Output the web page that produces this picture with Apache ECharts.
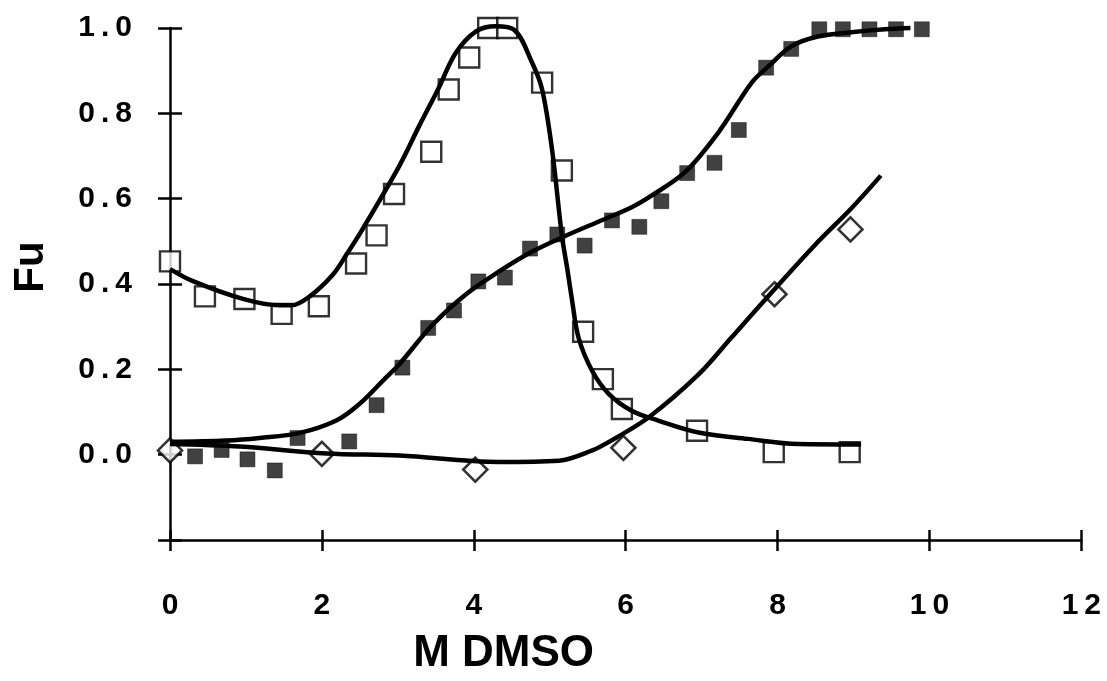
<!DOCTYPE html>
<html>
<head>
<meta charset="utf-8">
<script src="https://cdn.jsdelivr.net/npm/echarts@6/dist/echarts.min.js"></script>
<style>
  html, body { margin: 0; padding: 0; background: #fff; }
  #chart { width: 1107px; height: 681px; }
</style>
</head>
<body>
<div id="chart"></div>
<script>
// ---- data ----
const xTicks = [0, 2, 4, 6, 8, 10, 12];
const yTicks = [0.0, 0.2, 0.4, 0.6, 0.8, 1.0];

const openX = [0, 0.46, 0.98, 1.47, 1.96, 2.45, 2.72, 2.95, 3.44, 3.67, 3.94, 4.19, 4.44, 4.9, 5.16, 5.44, 5.7, 5.95, 6.94, 7.95, 8.95];
const openY = [0.453, 0.371, 0.365, 0.33, 0.348, 0.448, 0.514, 0.611, 0.71, 0.856, 0.931, 1.0, 1.0, 0.872, 0.666, 0.288, 0.177, 0.107, 0.056, 0.006, 0.006];

const filledX = [0.33, 0.68, 1.02, 1.38, 1.68, 2.36, 2.72, 3.06, 3.40, 3.74, 4.06, 4.41, 4.74, 5.10, 5.46, 5.82, 6.18, 6.47, 6.81, 7.17, 7.49, 7.85, 8.18, 8.55, 8.86, 9.21, 9.56, 9.90];
const filledY = [-0.004, 0.011, -0.011, -0.037, 0.039, 0.031, 0.116, 0.204, 0.297, 0.338, 0.406, 0.415, 0.483, 0.516, 0.49, 0.549, 0.534, 0.594, 0.66, 0.684, 0.761, 0.907, 0.951, 0.997, 0.997, 0.997, 0.997, 0.997];

const diamondX = [0, 2.0, 4.02, 5.97, 7.96, 8.96];
const diamondY = [0.01, 0.002, -0.035, 0.016, 0.376, 0.528];

const openFitX = [0, 0.31, 0.96, 1.44, 1.6, 1.84, 2.14, 2.32, 2.54, 3.02, 3.28, 3.54, 3.76, 4.03, 4.29, 4.53, 4.77, 4.9, 5.03, 5.16, 5.23, 5.29, 5.38, 5.56, 5.78, 6.08, 6.43, 6.96, 7.61, 8.27, 9.1];
const openFitY = [0.435, 0.406, 0.365, 0.35, 0.35, 0.371, 0.421, 0.468, 0.53, 0.677, 0.77, 0.86, 0.941, 0.992, 1.004, 0.996, 0.918, 0.856, 0.716, 0.514, 0.437, 0.367, 0.274, 0.196, 0.142, 0.103, 0.08, 0.052, 0.037, 0.025, 0.024];

const filledFitX = [0, 0.74, 1.18, 1.71, 2.19, 2.49, 2.84, 3.02, 3.46, 3.89, 4.33, 4.77, 5.21, 5.64, 6.08, 6.34, 6.78, 7.22, 7.66, 7.88, 8.18, 8.53, 8.97, 9.41, 9.75];
const filledFitY = [0.03, 0.033, 0.039, 0.051, 0.08, 0.118, 0.18, 0.212, 0.305, 0.375, 0.429, 0.476, 0.513, 0.546, 0.58, 0.607, 0.662, 0.755, 0.872, 0.91, 0.957, 0.98, 0.99, 0.997, 1.0];

const diamondFitX = [0, 0.92, 2.06, 3.02, 4.33, 5.12, 5.56, 5.81, 6.3, 6.96, 7.39, 7.83, 8.49, 8.97, 9.36];
const diamondFitY = [0.025, 0.019, 0.003, -0.002, -0.017, -0.014, 0.01, 0.033, 0.087, 0.188, 0.274, 0.362, 0.491, 0.577, 0.654];

const xName = 'M DMSO';
const yName = 'Fu';

// ---- helpers ----
const zip = (xs, ys) => xs.map((x, i) => [x, ys[i]]);
const FONT = '"Liberation Sans", Arial, Helvetica, sans-serif';
const spaced = s => s.split('').map(c => '{c|' + c + '}').join('');
const tickRich = { c: { fontFamily: FONT, fontWeight: 'bold', fontSize: 30, lineHeight: 32, color: '#000', padding: [0, 3] } };

const chart = echarts.init(document.getElementById('chart'), null, { renderer: 'canvas' });

const baseX = { type: 'value', min: 0, max: 12, interval: 2, splitLine: { show: false } };
const baseY = { type: 'value', min: -0.2, max: 1.0, interval: 0.2, splitLine: { show: false } };

const option = {
  backgroundColor: '#ffffff',
  animation: false,
  grid: { left: 170, right: 23, top: 28, bottom: 136, containLabel: false },
  xAxis: [
    Object.assign({}, baseX, {
      position: 'bottom',
      name: xName,
      nameLocation: 'middle',
      nameGap: 92,
      nameTextStyle: { fontFamily: FONT, fontWeight: 'bold', fontSize: 44, color: '#000', padding: [0, 244, 0, 0] },
      axisLine: { show: true, onZero: false, lineStyle: { color: '#000', width: 2.5 } },
      axisTick: { show: true, inside: false, length: 11, lineStyle: { color: '#000', width: 2.5 } },
      axisLabel: {
        margin: 50, fontFamily: FONT, fontWeight: 'bold', fontSize: 30, color: '#000', rich: tickRich,
        formatter: v => xTicks.includes(v) ? spaced(String(v)) : ''
      }
    }),
    Object.assign({}, baseX, {
      position: 'bottom',
      axisLine: { show: false, onZero: false },
      axisTick: { show: true, inside: true, length: 10, lineStyle: { color: '#000', width: 2.5 } },
      axisLabel: { show: false }
    })
  ],
  yAxis: [
    Object.assign({}, baseY, {
      position: 'left',
      name: yName,
      nameLocation: 'middle',
      nameGap: 118,
      nameRotate: 90,
      nameTextStyle: { fontFamily: FONT, fontWeight: 'bold', fontSize: 42, color: '#000', padding: [0, 0, 0, 34] },
      axisLine: { show: true, onZero: false, lineStyle: { color: '#000', width: 2.5 } },
      axisTick: { show: true, inside: false, length: 12, lineStyle: { color: '#000', width: 2.5 } },
      axisLabel: {
        margin: 35, fontFamily: FONT, fontWeight: 'bold', fontSize: 30, color: '#000', rich: tickRich,
        formatter: v => {
          const r = Math.round(v * 10) / 10;
          return yTicks.some(t => Math.abs(t - r) < 1e-9) ? spaced(r.toFixed(1)) : '';
        }
      }
    }),
    Object.assign({}, baseY, {
      position: 'left',
      axisLine: { show: false, onZero: false },
      axisTick: { show: true, inside: true, length: 12, lineStyle: { color: '#000', width: 2.5 } },
      axisLabel: { show: false }
    })
  ],
  series: [
    {
      name: 'open squares', type: 'scatter', xAxisIndex: 0, yAxisIndex: 0, z: 2,
      symbol: 'rect', symbolSize: 20,
      itemStyle: { color: '#ffffff', borderColor: '#000', borderWidth: 2.4 },
      data: zip(openX, openY)
    },
    {
      name: 'filled squares', type: 'scatter', xAxisIndex: 0, yAxisIndex: 0, z: 2,
      symbol: 'rect', symbolSize: 15,
      itemStyle: { color: '#111111', borderColor: '#000', borderWidth: 0.5 },
      data: zip(filledX, filledY)
    },
    {
      name: 'diamonds', type: 'scatter', xAxisIndex: 0, yAxisIndex: 0, z: 2,
      symbol: 'diamond', symbolSize: 24,
      itemStyle: { color: '#ffffff', borderColor: '#000', borderWidth: 2.6 },
      data: zip(diamondX, diamondY)
    },
    {
      name: 'open fit', type: 'line', xAxisIndex: 0, yAxisIndex: 0, z: 3,
      smooth: 0.35, showSymbol: false, clip: false,
      lineStyle: { color: '#000', width: 4.5 },
      data: zip(openFitX, openFitY)
    },
    {
      name: 'filled fit', type: 'line', xAxisIndex: 0, yAxisIndex: 0, z: 3,
      smooth: 0.35, showSymbol: false, clip: false,
      lineStyle: { color: '#000', width: 4.5 },
      data: zip(filledFitX, filledFitY)
    },
    {
      name: 'diamond fit', type: 'line', xAxisIndex: 0, yAxisIndex: 0, z: 3,
      smooth: 0.35, showSymbol: false, clip: false,
      lineStyle: { color: '#000', width: 4.5 },
      data: zip(diamondFitX, diamondFitY)
    }
  ]
};

chart.setOption(option);
</script>
</body>
</html>
